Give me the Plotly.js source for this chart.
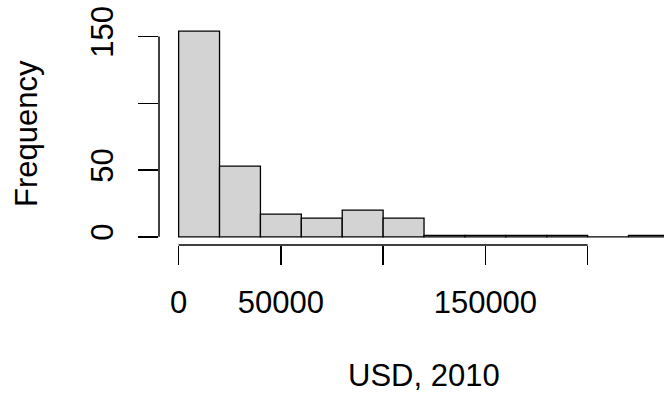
<!DOCTYPE html>
<html>
<head>
<meta charset="utf-8">
<script src="https://cdn.plot.ly/plotly-3.0.1.min.js"></script>
<style>html,body{margin:0;padding:0;background:#fff;}#chart{width:664px;height:396px;}</style>
</head>
<body>
<div id="chart"></div>
<script>
// Histogram bins (USD, 2010), bin width 20000
var binStarts = [0, 20000, 40000, 60000, 80000, 100000, 120000, 140000, 160000, 180000, 200000, 220000];
var binWidth = 20000;
var counts = [154, 53, 17, 14, 20, 14, 1, 1, 1, 1, 0, 1];

var xTickVals = [0, 50000, 100000, 150000, 200000];
var xTickText = ['0', '50000', '', '150000', ''];
var yTickVals = [0, 50, 100, 150];
var yTickText = ['0', '50', '', '150'];

var xTitle = 'USD, 2010';
var yTitle = 'Frequency';

var centers = binStarts.map(function (s) { return s + binWidth / 2; });

var font = {family: 'Liberation Sans, Arial, Helvetica, sans-serif', size: 31, color: '#000'};

var trace = {
  type: 'bar',
  x: centers,
  y: counts,
  width: binWidth,
  marker: {color: '#D3D3D3', line: {color: '#000', width: 1.3}},
  hoverinfo: 'x+y'
};

var layout = {
  width: 664,
  height: 396,
  margin: {l: 159, r: 0, t: 22.7, b: 150.5, pad: 0},
  paper_bgcolor: '#fff',
  plot_bgcolor: '#fff',
  showlegend: false,
  font: font,
  xaxis: {
    range: [-9600, 237344],
    showgrid: false, zeroline: false, showline: false,
    tickmode: 'array', tickvals: xTickVals, ticktext: xTickText,
    ticks: 'outside', ticklen: 19, tickwidth: 1.5, tickcolor: '#000',
    ticklabelstandoff: 11,
    tickfont: font
  },
  yaxis: {
    range: [-6.16, 160.16],
    showgrid: false, zeroline: false, showline: false,
    tickmode: 'array', tickvals: yTickVals, ticktext: yTickText,
    ticks: 'outside', ticklen: 20, tickwidth: 1.5, tickcolor: '#000',
    tickangle: -90,
    ticklabelstandoff: 13,
    tickfont: font
  },
  shapes: [
    {type: 'line', xref: 'x', yref: 'paper', x0: xTickVals[0], x1: xTickVals[xTickVals.length - 1], y0: 0, y1: 0,
     line: {color: '#000', width: 1.5}, layer: 'above'},
    {type: 'line', xref: 'paper', yref: 'y', x0: 0, x1: 0, y0: yTickVals[0], y1: yTickVals[yTickVals.length - 1],
     line: {color: '#000', width: 1.5}, layer: 'above'}
  ],
  annotations: [
    {text: xTitle, xref: 'x', yref: 'paper', x: 120000, y: 0, yshift: -130.5,
     xanchor: 'center', yanchor: 'middle', showarrow: false, font: font},
    {text: yTitle, xref: 'paper', yref: 'y', x: 0, y: 77, xshift: -133, textangle: -90,
     xanchor: 'center', yanchor: 'middle', showarrow: false, font: font}
  ]
};

Plotly.newPlot('chart', [trace], layout, {displayModeBar: false, staticPlot: true});
</script>
</body>
</html>
